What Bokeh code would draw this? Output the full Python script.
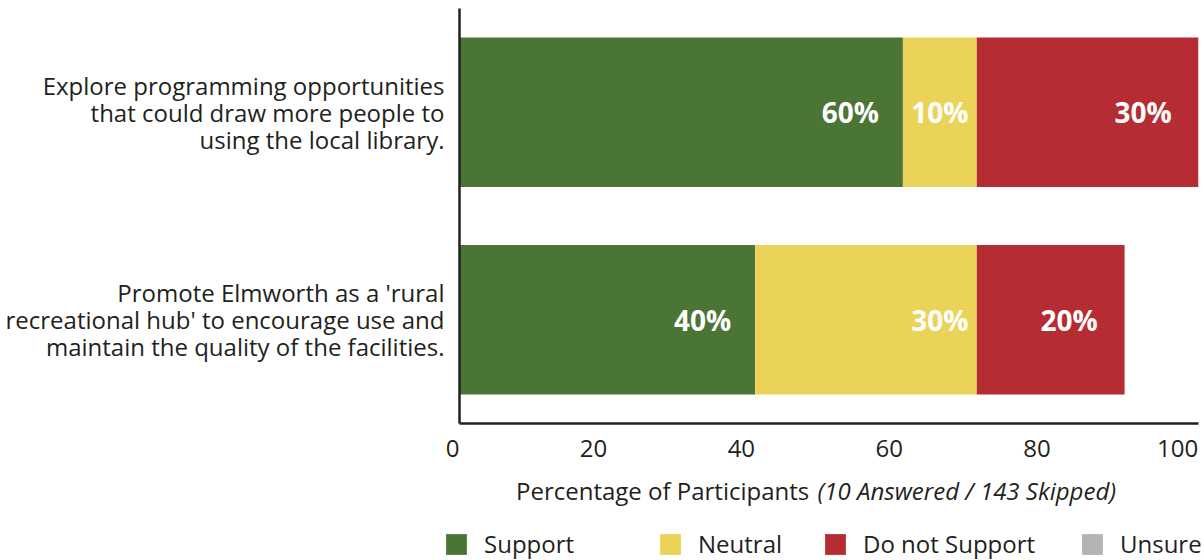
from bokeh.plotting import figure
from bokeh.layouts import column
from bokeh.models import (ColumnDataSource, FixedTicker, Range1d, Legend, LegendItem, Label)
from bokeh.core.properties import value
from bokeh.embed import file_html
from bokeh.resources import INLINE

# ---- data ----
questions = [
    "Explore programming opportunities\nthat could draw more people to\nusing the local library.",
    "Promote Elmworth as a 'rural\nrecreational hub' to encourage use and\nmaintain the quality of the facilities.",
]
y_pos = [1, 0]
series = ["Support", "Neutral", "Do not Support", "Unsure"]
support = [60, 40]
neutral = [10, 30]
not_support = [30, 20]
unsure = [0, 0]
x_ticks = [0, 20, 40, 60, 80, 100]
axis_title_main = "Percentage of Participants "
axis_title_note = "(10 Answered / 143 Skipped)"

colors = ["#4a7535", "#ebd35a", "#b52d32", "#b3b3b3"]
label_offsets = [7.1, 5.0, 7.5, 5.0]   # label centre distance from segment end (style)
FONT = "Open Sans"
DARK = "#231f20"
FIG_SP = "\u2007"  # figure space: pads tick labels so they sit right-aligned on the tick

source = ColumnDataSource(dict(y=y_pos, support=support, neutral=neutral,
                               not_support=not_support, unsure=unsure))

p = figure(width=1204, height=468, output_backend="svg", toolbar_location=None,
           x_range=Range1d(0, 100), y_range=Range1d(-0.5, 1.5),
           min_border_left=459, min_border_right=6, min_border_top=8, min_border_bottom=45)
p.outline_line_color = None
p.grid.visible = False
p.frame_align = False

keys = ["support", "neutral", "not_support", "unsure"]
renderers = p.hbar_stack(keys, y="y", height=0.72, color=colors, source=source, line_width=0)

# segment labels
values = [support, neutral, not_support, unsure]
lx, ly, lt = [], [], []
for i in range(len(y_pos)):
    start = 0
    for s, vals in enumerate(values):
        v = vals[i]
        end = start + v
        if v > 0:
            lx.append(end - label_offsets[s])
            ly.append(y_pos[i])
            lt.append(f"{v}%")
        start = end
p.text(x=lx, y=ly, text=lt, text_color="white", text_font=value(FONT),
       text_font_style="bold", text_font_size="28px", text_align="center",
       text_baseline="middle")

# axes
xa = p.xaxis[0]
xa.ticker = FixedTicker(ticks=x_ticks)
overrides = {t: str(t) + FIG_SP * len(str(t)) for t in x_ticks}
overrides[x_ticks[-1]] = str(x_ticks[-1]) + "\u2008"   # last label is pushed in by the canvas edge
xa.major_label_overrides = overrides
xa.major_tick_line_color = None
xa.minor_tick_line_color = None
xa.axis_line_color = DARK
xa.axis_line_width = 2.5
xa.major_label_text_font = FONT
xa.major_label_text_font_size = "24px"
xa.major_label_text_color = DARK
xa.major_label_standoff = 1

ya = p.yaxis[0]
ya.ticker = FixedTicker(ticks=y_pos)
ya.major_label_overrides = {yv: q for yv, q in zip(y_pos, questions)}
ya.major_tick_line_color = None
ya.minor_tick_line_color = None
ya.axis_line_color = DARK
ya.axis_line_width = 2.5
ya.major_label_text_font = FONT
ya.major_label_text_font_size = "24px"
ya.major_label_text_color = DARK
ya.major_label_text_line_height = 0.82
ya.major_label_standoff = 9

# ---- lower strip: axis title + legend ----
p2 = figure(width=1204, height=92, output_backend="svg", toolbar_location=None,
            x_range=Range1d(0, 1204), y_range=Range1d(0, 92),
            x_axis_type=None, y_axis_type=None,
            min_border_left=0, min_border_right=0, min_border_top=0, min_border_bottom=0)
p2.outline_line_color = None
p2.grid.visible = False
p2.frame_align = False

p2.add_layout(Label(x=815, y=70, x_units="screen", y_units="screen", text=axis_title_main,
                    text_font=FONT, text_font_size="24px", text_color=DARK,
                    text_align="right", text_baseline="middle"))
p2.add_layout(Label(x=817, y=70, x_units="screen", y_units="screen", text=axis_title_note,
                    text_font=FONT, text_font_size="24px", text_color=DARK,
                    text_font_style="italic", text_align="left", text_baseline="middle"))

leg_x = [443, 657, 822, 1079]
for name, col, lxp in zip(series, colors, leg_x):
    # proxy renderer (kept off-canvas) that only supplies the legend swatch
    r = p2.hbar(y=[-500], left=[0], right=[1], height=1, color=col, line_width=0)
    lg = Legend(items=[LegendItem(label=name, renderers=[r], index=0)], location=(lxp, 0),
                orientation="horizontal", glyph_width=26, glyph_height=26,
                label_standoff=15, label_text_font=FONT, label_text_font_size="24px",
                label_text_color=DARK, padding=0, margin=0, spacing=0,
                border_line_alpha=0, background_fill_alpha=0)
    p2.add_layout(lg, "center")

layout = column(p, p2, spacing=0)
open("out.html", "w").write(file_html(layout, INLINE))
